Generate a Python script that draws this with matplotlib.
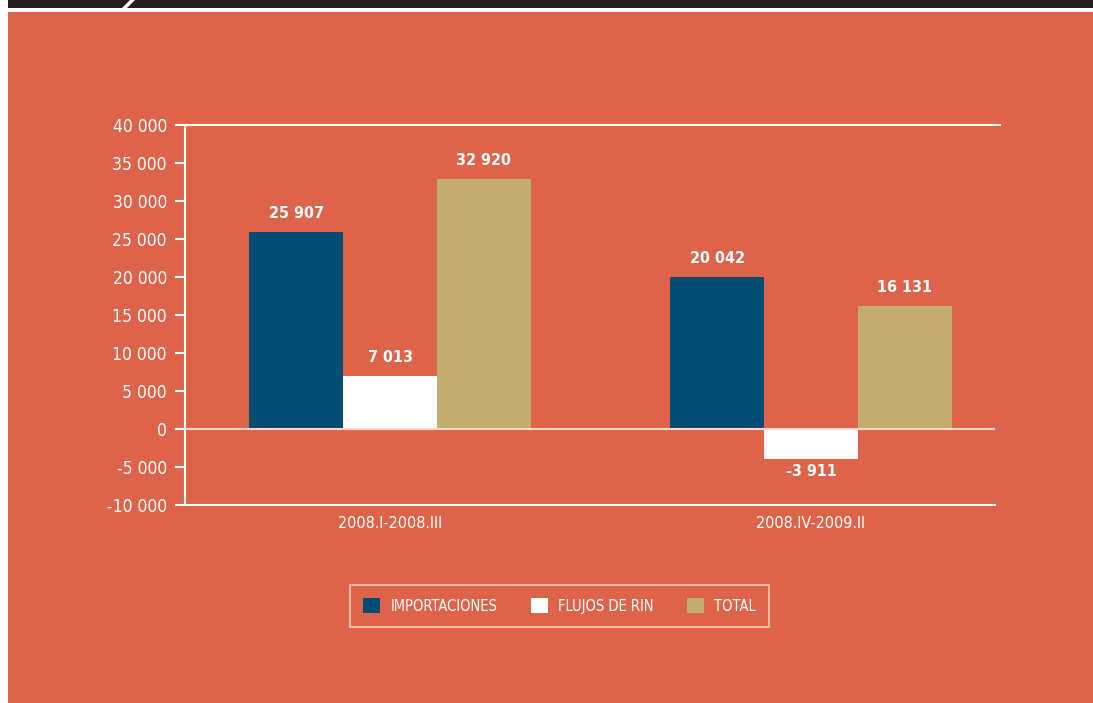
import matplotlib
matplotlib.use("Agg")
import matplotlib.pyplot as plt
from matplotlib.patches import Rectangle, Polygon
import matplotlib.font_manager as fm

W, H = 1093, 703
names = {f.name for f in fm.fontManager.ttflist}
fam = [n for n in ["Liberation Sans Narrow", "DejaVu Sans"] if n in names] or ["DejaVu Sans"]
plt.rcParams['font.family'] = fam
plt.rcParams['font.stretch'] = 'condensed'

categories = ["2008.I-2008.III", "2008.IV-2009.II"]
series_names = ["IMPORTACIONES", "FLUJOS DE RIN", "TOTAL"]
importaciones = [25907, 20042]
flujos_rin = [7013, -3911]
total = [32920, 16131]
yticks = [-10000, -5000, 0, 5000, 10000, 15000, 20000, 25000, 30000, 35000, 40000]

BG = "#DD644A"
colors = ["#034D73", "#FFFFFF", "#C3AD6E"]

def fmt(v):
    s = f"{abs(v):,}".replace(",", " ")
    return ("-" if v < 0 else "") + s

fig = plt.figure(figsize=(W / 100, H / 100), dpi=100)
fig.patch.set_facecolor("white")

# header band and orange panel
fig.patches.append(Rectangle((8 / W, 1 - 8 / H), 1 - 8 / W, 8 / H, transform=fig.transFigure,
                             facecolor="#231F20", edgecolor="none", zorder=-3))
fig.patches.append(Polygon([(122 / W, 1 - 8 / H), (127 / W, 1 - 8 / H), (135 / W, 1.0), (130 / W, 1.0)],
                           closed=True, transform=fig.transFigure, facecolor="white", edgecolor="none", zorder=-2))
fig.patches.append(Rectangle((8 / W, 0), 1 - 8 / W, 1 - 12 / H, transform=fig.transFigure,
                             facecolor=BG, edgecolor="none", zorder=-3))

# axes: left x=185, right 995, top y=125 (40000), bottom y=505 (-10000)
ax = fig.add_axes([185 / W, 1 - 505 / H, (995 - 185) / W, (505 - 125) / H])
ax.set_facecolor("none")
ax.set_zorder(2)
ax.set_ylim(-10000, 40000)
ax.set_xlim(-0.487, 1.437)

bw = 0.223
offsets = [-bw, 0, bw]
data = [importaciones, flujos_rin, total]
for i, (vals, c) in enumerate(zip(data, colors)):
    xs = [k + offsets[i] for k in range(len(categories))]
    ax.bar(xs, vals, width=bw, color=c, edgecolor="none", zorder=2, label=series_names[i])
    for x, v in zip(xs, vals):
        if v >= 0:
            ax.annotate(fmt(v), (x, v), xytext=(0, 8), textcoords="offset points",
                        ha="center", va="bottom", color="white", fontsize=11.5, fontweight="semibold")
        else:
            ax.annotate(fmt(v), (x, v), xytext=(0, -4), textcoords="offset points",
                        ha="center", va="top", color="white", fontsize=11.5, fontweight="semibold")

ax.axhline(0, color="#F3D9CF", lw=1.5, zorder=3)
ax.axhline(40000, color="white", lw=1.5, zorder=3, xmax=1.006, clip_on=False)

for s in ["top", "right"]:
    ax.spines[s].set_visible(False)
ax.spines["left"].set_color("white")
ax.spines["left"].set_linewidth(1.5)
ax.spines["bottom"].set_color("white")
ax.spines["bottom"].set_linewidth(1.5)

ax.set_yticks(yticks)
ax.set_yticklabels([fmt(v) for v in yticks])
ax.tick_params(axis="y", colors="white", labelcolor="white", length=7, width=1.5,
               labelsize=12.5, pad=6)
ax.set_xticks(range(len(categories)))
ax.set_xticklabels(categories)
ax.tick_params(axis="x", length=0, labelcolor="white", labelsize=11.5, pad=8)

leg = fig.legend(loc="center", bbox_to_anchor=(559.5 / W, 1 - 606 / H), ncol=3, frameon=True,
                 fontsize=10.5, handlelength=1.15, handleheight=1.15, columnspacing=2.3,
                 handletextpad=0.7, borderpad=0.95, fancybox=False, labelcolor="white")
leg.get_frame().set_facecolor(BG)
leg.get_frame().set_edgecolor("#F7E1D8")
leg.get_frame().set_linewidth(1.2)

fig.savefig("out.png", dpi=100, facecolor=fig.get_facecolor())
